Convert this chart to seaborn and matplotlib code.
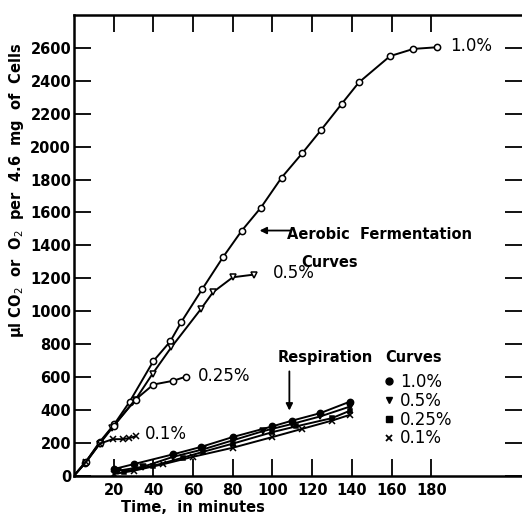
import matplotlib
matplotlib.use("Agg")
import matplotlib.pyplot as plt
from matplotlib.lines import Line2D
import seaborn as sns

# ---- Aerobic fermentation curves (time in minutes, µl) ----
aer10_t = [0, 5.7, 13, 20.3, 28, 40, 48.5, 54, 64.5, 75, 84.5, 94.2, 104.6, 115, 124.4, 135, 143.5, 159.2, 171, 183]
aer10_v = [0, 80, 206, 313, 449, 697, 816, 933, 1132, 1327, 1489, 1630, 1812, 1960, 2100, 2262, 2390, 2550, 2594, 2604]

aer05_t = [0, 6, 13, 19, 31, 39.6, 49, 64, 70, 80, 90.5]
aer05_v = [0, 80, 195, 287, 463, 620, 780, 1014, 1115, 1206, 1222]

aer025_t = [0, 6, 13, 20, 31, 40, 50, 56.4]
aer025_v = [0, 85, 200, 305, 463, 554, 577, 602]

aer01_t = [0, 6, 13, 19.5, 24.5, 27.5, 31.2]
aer01_v = [0, 85, 195, 222, 222, 228, 240]

# ---- Respiration curves ----
res10_t = [20, 30, 50, 64, 80, 100, 110, 124, 139]
res10_v = [40, 70, 130, 175, 235, 300, 335, 380, 450]
res05_t = [22, 35, 50, 65, 80, 95, 110, 124, 139]
res05_v = [30, 55, 115, 160, 215, 270, 315, 360, 420]
res025_t = [25, 40, 55, 65, 80, 100, 112, 130, 139]
res025_v = [25, 60, 110, 145, 195, 265, 300, 350, 395]
res01_t = [20, 30, 45, 60, 80, 100, 115, 130, 139]
res01_v = [10, 30, 70, 115, 170, 235, 285, 335, 370]

legend_labels = ["1.0%", "0.5%", "0.25%", "0.1%"]
x_ticks = [20, 40, 60, 80, 100, 120, 140, 160, 180]
y_ticks = list(range(0, 2700, 200))

sns.set_style("ticks")
plt.rcParams['font.family'] = ['DejaVu Sans']
plt.rcParams['text.color'] = 'black'
plt.rcParams['axes.labelcolor'] = 'black'
plt.rcParams['xtick.color'] = 'black'
plt.rcParams['ytick.color'] = 'black'
plt.rcParams['axes.edgecolor'] = 'black'

fig = plt.figure(figsize=(5.22, 5.18), dpi=100)
ax = fig.add_axes([74 / 522, 1 - 475.7 / 518, 1 - 74 / 522, (475.7 - 15) / 518])
ax.set_xlim(0, 225.7)
ax.set_ylim(0, 2800)


def draw(t, v, marker, mfc, ms, skip_first=True):
    me = list(range(1, len(t))) if skip_first else None
    sns.lineplot(x=t, y=v, ax=ax, color='black', lw=1.4, marker=marker,
                 markerfacecolor=mfc, markeredgecolor='black', markersize=ms,
                 markeredgewidth=1.1, estimator=None, sort=False, markevery=me)


draw(aer10_t, aer10_v, 'o', 'white', 4.5)
draw(aer05_t, aer05_v, 'v', 'white', 5)
draw(aer025_t, aer025_v, 'o', 'white', 4.5)
draw(aer01_t, aer01_v, 'x', 'black', 4.5)

draw(res10_t, res10_v, 'o', 'black', 4.5, False)
draw(res05_t, res05_v, 'v', 'black', 5, False)
draw(res025_t, res025_v, 's', 'black', 3.5, False)
draw(res01_t, res01_v, 'x', 'black', 4.5, False)

# ticks & spines
ax.set_xticks(x_ticks)
ax.set_yticks(y_ticks)
ax.set_xticklabels([str(t) for t in x_ticks], fontsize=10.5, fontweight='bold')
ax.set_yticklabels([str(t) for t in y_ticks], fontsize=10.5, fontweight='bold')
ax.tick_params(axis='both', direction='in', length=12, width=1.3, top=True, right=True,
               colors='black')
ax.tick_params(axis='y', pad=2)
ax.tick_params(axis='x', pad=5)
for s in ['left', 'bottom', 'top']:
    ax.spines[s].set_linewidth(1.8)
    ax.spines[s].set_color('black')
ax.spines['right'].set_visible(False)
ax.set_xlabel("")
ax.set_ylabel("")

# curve labels
lab = dict(fontsize=12, ha='left', va='center', color='black')
ax.text(189.4, 2610, "1.0%", **lab)
ax.text(100, 1230, "0.5%", **lab)
ax.text(62.5, 604, "0.25%", **lab)
ax.text(35.8, 253, "0.1%", **lab)

bold = dict(fontsize=10.5, fontweight='bold', va='center', color='black')
ax.text(153.9, 1465, "Aerobic  Fermentation", ha='center', **bold)
ax.text(129, 1295, "Curves", ha='center', **bold)
ax.annotate("", xy=(92.1, 1490), xytext=(110.3, 1490),
            arrowprops=dict(arrowstyle='-|>', color='black', lw=1.3, mutation_scale=10))

ax.text(102.8, 721, "Respiration", ha='left', **bold)
ax.text(156.7, 721, "Curves", ha='left', **bold)
ax.annotate("", xy=(108.5, 379), xytext=(108.5, 651),
            arrowprops=dict(arrowstyle='-|>', color='black', lw=1.3, mutation_scale=10))

handles = [Line2D([], [], ls='none', marker='o', color='black', ms=5),
           Line2D([], [], ls='none', marker='v', color='black', ms=5),
           Line2D([], [], ls='none', marker='s', color='black', ms=4),
           Line2D([], [], ls='none', marker='x', color='black', ms=5, mew=1.3)]
leg = ax.legend(handles, legend_labels, loc='upper left', bbox_to_anchor=(156, 625),
                bbox_transform=ax.transData, frameon=False, fontsize=12,
                handlelength=0.6, handletextpad=0.4, labelspacing=0.05, borderpad=0,
                borderaxespad=0)
for t in leg.get_texts():
    t.set_color('black')

fig.text(193 / 522, 1 - 507 / 518, "Time,  in minutes", fontsize=10.5, fontweight='bold',
         ha='center', va='center', color='black')
fig.text(17 / 522, 1 - 190 / 518, r"µl CO$_2$  or  O$_2$  per  4.6  mg  of  Cells",
         fontsize=10.5, fontweight='bold', rotation=90, ha='center', va='center', color='black')

fig.savefig("out.png", dpi=100)
